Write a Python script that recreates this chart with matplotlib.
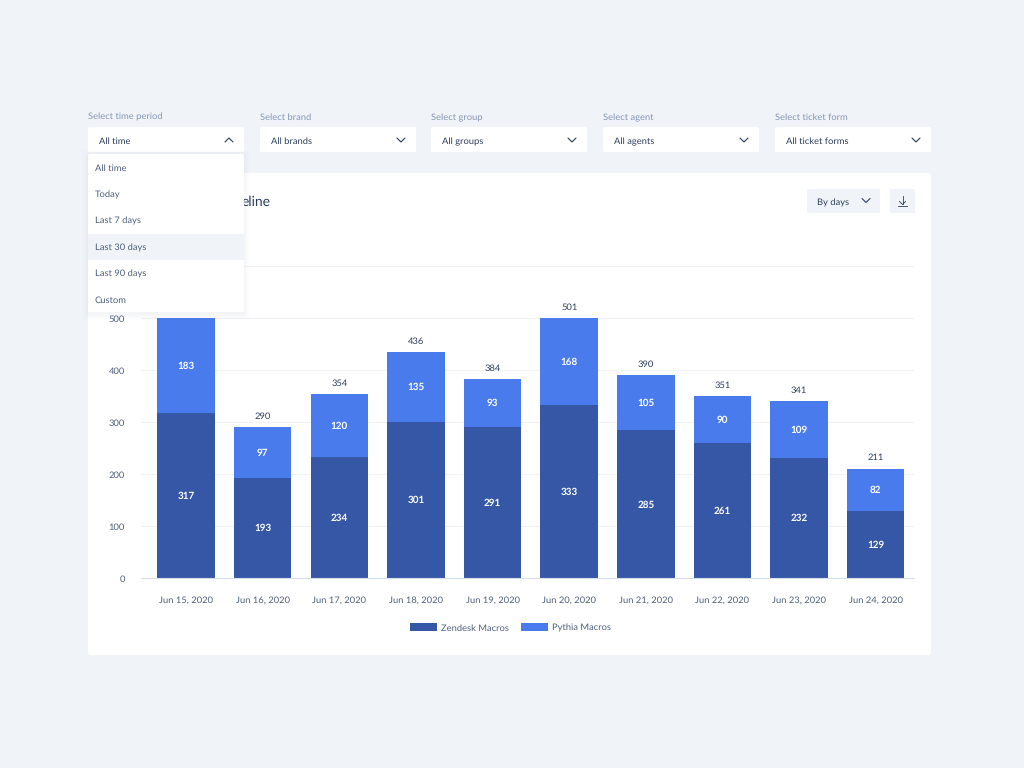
import matplotlib
matplotlib.use("Agg")
import matplotlib.pyplot as plt
from matplotlib.patches import FancyBboxPatch, Rectangle

plt.rcParams['font.family'] = ['Lato', 'DejaVu Sans']
plt.rcParams['text.hinting'] = 'none'

dates = ["Jun 15, 2020", "Jun 16, 2020", "Jun 17, 2020", "Jun 18, 2020", "Jun 19, 2020",
         "Jun 20, 2020", "Jun 21, 2020", "Jun 22, 2020", "Jun 23, 2020", "Jun 24, 2020"]
zendesk = [317, 193, 234, 301, 291, 333, 285, 261, 232, 129]
pythia = [183, 97, 120, 135, 93, 168, 105, 90, 109, 82]
totals = [500, 290, 354, 436, 384, 501, 390, 351, 341, 211]
y_ticks = [0, 100, 200, 300, 400, 500, 600]
# the 600 label sits behind the open menu in the reference
y_labels = ["0", "100", "200", "300", "400", "500", ""]

filter_titles = ["Select time period", "Select brand", "Select group", "Select agent", "Select ticket form"]
filter_values = ["All time", "All brands", "All groups", "All agents", "All ticket forms"]
menu_items = ["All time", "Today", "Last 7 days", "Last 30 days", "Last 90 days", "Custom"]

BG = "#f0f3f8"
DARK = "#3557a5"
LIGHT = "#4a7bec"
TEXT = "#2c3d5b"
AXIS_TEXT = "#4d5f7c"
MUTED = "#8496b5"
FS = 6.75
W, H = 1024, 768


def rounded(ax, x, y, w, h, color, r=2, z=1, **kw):
    box = FancyBboxPatch((x + r, y + r), w - 2 * r, h - 2 * r, boxstyle="round,pad=%d,rounding_size=%d" % (r, r),
                         fc=color, ec="none", zorder=z, **kw)
    ax.add_patch(box)


def chevron(ax, cx, cy, up=False, z=5):
    d = -2 if up else 2
    ax.plot([cx - 4, cx, cx + 4], [cy - d, cy + d, cy - d], color=TEXT, lw=0.8, zorder=z, solid_capstyle="round")


def overlay(z):
    a = fig.add_axes([0, 0, 1, 1], zorder=z)
    a.set_xlim(0, W)
    a.set_ylim(H, 0)
    a.axis("off")
    a.patch.set_alpha(0)
    return a


fig = plt.figure(figsize=(W / 100, H / 100), dpi=100, facecolor=BG)

# card behind the chart
back = overlay(0)
rounded(back, 88, 173, 843, 482, "white", r=3)

# chart, placed in pixels
ax = fig.add_axes([141 / W, 1 - 578.3 / H, (914 - 141) / W, (578 - 266) / H], zorder=1)
ax.patch.set_alpha(0)
x = list(range(len(dates)))
bw = 0.75
b1 = ax.bar(x, zendesk, bw, color=DARK, label="Zendesk Macros", zorder=2)
b2 = ax.bar(x, pythia, bw, bottom=zendesk, color=LIGHT, label="Pythia Macros", zorder=2)
for i in x:
    ax.text(i, zendesk[i] / 2 - 0.8, str(zendesk[i]), ha="center", va="center", color="white",
            fontsize=7.1, fontweight="bold", zorder=3)
    ax.text(i, zendesk[i] + pythia[i] / 2 - 0.8, str(pythia[i]), ha="center", va="center", color="white",
            fontsize=7.1, fontweight="bold", zorder=3)
    ax.text(i, totals[i] + 20.5, str(totals[i]), ha="center", va="center", color=TEXT, fontsize=FS, zorder=3)

ax.set_xlim(-0.588, 9.5)
ax.set_ylim(0, 600)
ax.set_yticks(y_ticks)
ax.set_yticklabels(y_labels)
ax.set_xticks(x)
ax.set_xticklabels(dates)
ax.grid(axis="y", color="#f0f2f6", lw=0.8, zorder=0)
ax.set_axisbelow(True)
for s in ["top", "right", "left"]:
    ax.spines[s].set_visible(False)
ax.spines["bottom"].set_color("#d5deeb")
ax.tick_params(axis="both", length=0, labelcolor=AXIS_TEXT, labelsize=FS)
ax.tick_params(axis="x", pad=13)
ax.tick_params(axis="y", pad=11.5)
leg = ax.legend(handles=[b1, b2], loc="center", bbox_to_anchor=(0.478, -0.158), ncol=2, frameon=False,
                fontsize=FS, handlelength=2.8, handleheight=0.95, handletextpad=0.45, columnspacing=1.35,
                labelcolor=AXIS_TEXT)

# filters, dropdown and buttons on top
ui = overlay(2)
filter_x = [88, 260, 431, 603, 775]
for fx, title, value in zip(filter_x, filter_titles, filter_values):
    ui.text(fx, 119.9, title, color=MUTED, fontsize=FS, va="baseline", zorder=5)
    rounded(ui, fx, 127, 156, 25, "white", r=2, z=2)
    ui.text(fx + 11, 143.9, value, color=TEXT, fontsize=FS, va="baseline", zorder=5)
    chevron(ui, fx + 141, 140, up=(fx == 88))

# only the end of the chart title shows past the open menu
ui.text(270, 205.5, "eline", color=TEXT, fontsize=10, ha="right", va="baseline", zorder=3)

# soft shadow under the open menu
for grow, alpha in [(6, 0.006), (4, 0.009), (2.5, 0.012), (1, 0.016)]:
    ui.add_patch(Rectangle((88 - grow, 154 - grow + 2), 156 + 2 * grow, 158 + 2 * grow, fc="#2c3d5b",
                           ec="none", alpha=alpha, zorder=3))
rounded(ui, 88, 154, 156, 158, "white", r=2, z=4)
ui.add_patch(Rectangle((88, 233.5), 156, 26, fc=BG, ec="none", zorder=4.5))
for i, item in enumerate(menu_items):
    ui.text(95, 171.1 + i * 26.3, item, color=AXIS_TEXT, fontsize=FS, va="baseline", zorder=5)

rounded(ui, 807, 189, 73, 24, BG, r=1, z=2)
ui.text(817, 205, "By days", color=TEXT, fontsize=FS, va="baseline", zorder=5)
chevron(ui, 866, 200.5)
rounded(ui, 890, 189, 25, 24, BG, r=1, z=2)
ui.plot([902.5, 902.5], [196, 204], color=TEXT, lw=0.6, zorder=5)
ui.plot([899.5, 902.5, 905.5], [201.5, 204.5, 201.5], color=TEXT, lw=0.6, zorder=5)
ui.plot([898, 907], [206, 206], color=TEXT, lw=0.6, zorder=5)

fig.savefig("out.png", dpi=100, facecolor=BG)
